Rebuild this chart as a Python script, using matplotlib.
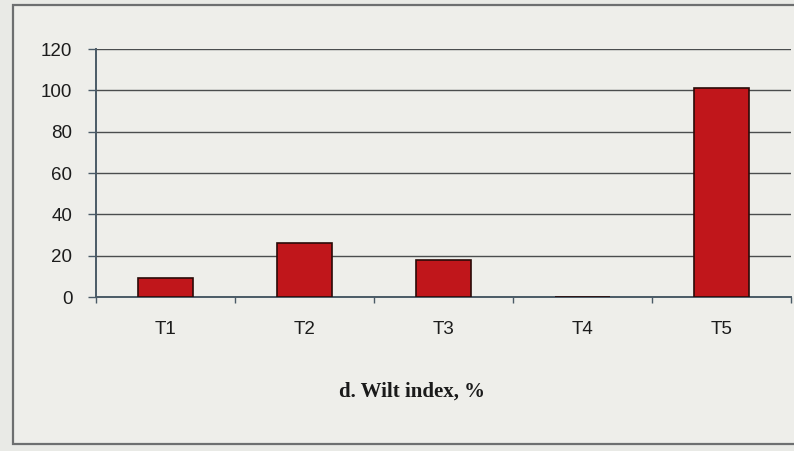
import matplotlib.pyplot as plt
import matplotlib.patches as mpatches
import numpy as np

# treatment labels and wilt index values (%)
treatments = ['T1', 'T2', 'T3', 'T4', 'T5']
wilt_index = [9, 26, 18, 0, 101]
y_ticks = [0, 20, 40, 60, 80, 100, 120]
caption = 'd. Wilt index, %'

fig = plt.figure(figsize=(7.94, 4.51), dpi=100)
fig.patch.set_facecolor('#e9eae6')

# chart border, kept behind the axes
frame = mpatches.Rectangle((13 / 794, 7 / 451), 1.0, 439 / 451,
                           transform=fig.transFigure, facecolor='#eeeeea',
                           edgecolor='#6d6f70', linewidth=1.6, zorder=-5)
fig.patches.append(frame)

ax = fig.add_axes([96 / 794, 1 - 297 / 451, 695 / 794, 248 / 451])
ax.set_facecolor('none')

x = np.arange(len(treatments))
ax.bar(x, wilt_index, width=0.4, color='#c0161b', edgecolor='#2a0a08',
       linewidth=1.2, zorder=3)

ax.set_xlim(-0.5, len(treatments) - 0.5)
ax.set_ylim(0, 120)
ax.set_yticks(y_ticks)
ax.set_yticklabels([str(v) for v in y_ticks], fontsize=13.5, family='Liberation Sans',
                   color='#1c1c1c')
ax.yaxis.grid(True, color='#4a4d4e', linewidth=1.0, zorder=1)
ax.set_axisbelow(True)
ax.tick_params(axis='y', length=6, width=1, color='#4a5a66', pad=11)

ax.set_xticks(x)
ax.set_xticklabels(treatments, fontsize=13.5, family='Liberation Sans', color='#1c1c1c')
ax.tick_params(axis='x', length=0, pad=17)
# small ticks between the categories
ax.set_xticks(np.arange(len(treatments) + 1) - 0.5, minor=True)
ax.tick_params(axis='x', which='minor', length=4, width=1, color='#4a5a66')

for side in ['top', 'right']:
    ax.spines[side].set_visible(False)
ax.spines['left'].set_color('#4a5a66')
ax.spines['left'].set_linewidth(1.4)
ax.spines['bottom'].set_color('#4a5a66')
ax.spines['bottom'].set_linewidth(1.4)

fig.text(412 / 794, 1 - 392 / 451, caption, ha='center', va='center',
         fontsize=15, fontweight='bold', family='Liberation Serif', color='#1a1a1a')

fig.savefig('out.png', dpi=100, facecolor=fig.get_facecolor())
